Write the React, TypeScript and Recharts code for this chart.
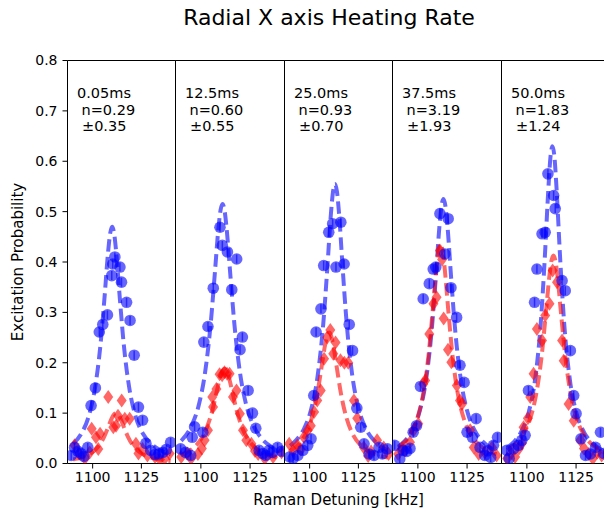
import React from 'react';
import { ComposedChart, XAxis, YAxis, Line, Scatter, ReferenceArea } from 'recharts';

// ---------- data ----------
const xTicks = [1100, 1125];
const yTicks = [0, 0.1, 0.2, 0.3, 0.4, 0.5, 0.6, 0.7, 0.8];
const xDomain: [number, number] = [1087.1, 1142.5];
const yDomain: [number, number] = [0, 0.8];

const delayLabels = ['0.05ms', '12.5ms', '25.0ms', '37.5ms', '50.0ms'];
const nLabels = ['n=0.29', 'n=0.60', 'n=0.93', 'n=3.19', 'n=1.83'];
const errLabels = ['\u00b10.35', '\u00b10.55', '\u00b10.70', '\u00b11.93', '\u00b11.24'];

const blue1 = [[1089,0.016],[1090.7,0.032],[1092.5,0.024],[1094,0.02],[1095.5,0.014],[1097.5,0.032],[1099.2,0.115],[1101.4,0.15],[1103.4,0.261],[1105.2,0.276],[1107.6,0.295],[1109.8,0.373],[1110.3,0.396],[1111.4,0.41],[1114,0.39],[1114.8,0.36],[1117.4,0.32],[1119.2,0.284],[1121.3,0.215],[1123.5,0.112],[1125.6,0.086],[1127.3,0.04],[1129.8,0.026],[1132,0.018],[1134,0.019],[1136,0.022],[1137.8,0.028],[1140,0.042]];
const red1 = [[1090.7,0.036],[1093,0.02],[1096,0.01],[1098.5,0.022],[1099.5,0.069],[1101.7,0.052],[1102.9,0.029],[1103.8,0.059],[1108,0.132],[1110.6,0.072],[1112,0.075],[1113,0.095],[1114.9,0.125],[1116.5,0.089],[1119,0.089],[1122.2,0.039],[1123.5,0.02],[1125.6,0.029],[1128.1,0.016],[1132,0.013],[1134.5,0.008],[1137,0.01],[1139.5,0.02]];
const fitBlue1 = [[1090,0.039],[1094,0.058],[1098,0.094],[1101,0.145],[1104,0.235],[1106,0.325],[1108,0.423],[1109,0.457],[1110,0.47],[1111,0.457],[1112,0.423],[1114,0.325],[1116,0.235],[1119,0.145],[1122,0.094],[1126,0.058],[1130,0.039],[1135,0.026],[1140,0.018]];
const fitRed1 = [[1090,0.008],[1092,0.0096],[1096,0.0142],[1100,0.0227],[1103,0.0343],[1106,0.054],[1108,0.0725],[1110,0.0913],[1111,0.0977],[1112,0.1],[1113,0.0977],[1114,0.0913],[1116,0.0725],[1118,0.054],[1121,0.0343],[1124,0.0227],[1128,0.0142],[1132,0.0096],[1137,0.0063],[1140,0.0051]];

const blue2 = [[1089.7,0.029],[1092.2,0.022],[1094.8,0.016],[1095.6,0.052],[1096.8,0.073],[1101,0.062],[1101.5,0.241],[1103.6,0.272],[1106.3,0.348],[1109.7,0.469],[1110.9,0.433],[1113.5,0.42],[1115.7,0.345],[1118.2,0.406],[1119.9,0.226],[1121.1,0.251],[1124,0.145],[1126.2,0.1],[1127.9,0.07],[1129.6,0.026],[1131.5,0.02],[1133,0.016],[1134.7,0.026],[1136.4,0.022],[1139,0.032],[1141,0.024]];
const red2 = [[1090,0.013],[1093,0.02],[1095,0.01],[1098.5,0.019],[1100.5,0.03],[1101.9,0.046],[1103.6,0.066],[1105.8,0.132],[1106.2,0.112],[1107.9,0.148],[1109.5,0.177],[1110.8,0.175],[1112,0.181],[1113.3,0.178],[1114.6,0.178],[1116.3,0.132],[1118.1,0.145],[1119.8,0.099],[1121.4,0.066],[1123.1,0.046],[1125.7,0.039],[1127.5,0.025],[1129.1,0.019],[1132.5,0.01],[1136.7,0.013],[1141,0.022]];
const fitBlue2 = [[1090,0.045],[1095,0.073],[1099,0.117],[1102,0.177],[1105,0.278],[1107,0.373],[1109,0.47],[1110,0.503],[1111,0.515],[1112,0.503],[1113,0.47],[1115,0.373],[1117,0.278],[1120,0.177],[1123,0.117],[1127,0.073],[1131,0.049],[1136,0.033],[1140,0.025]];
const fitRed2 = [[1090,0.017],[1092,0.0205],[1096,0.0303],[1100,0.0478],[1103,0.0709],[1106,0.108],[1108,0.142],[1110,0.174],[1111,0.184],[1112,0.188],[1113,0.184],[1114,0.174],[1116,0.142],[1118,0.108],[1121,0.0709],[1124,0.0478],[1128,0.0303],[1132,0.0205],[1137,0.0137],[1140,0.011]];

const blue3 = [[1089.7,0.013],[1091.5,0.01],[1093.9,0.016],[1096.5,0.026],[1099,0.036],[1100.7,0.049],[1102.1,0.135],[1103.3,0.261],[1105.8,0.307],[1107.2,0.393],[1109.8,0.459],[1111.8,0.476],[1113.5,0.39],[1116,0.479],[1117.7,0.396],[1120.3,0.276],[1122,0.224],[1124.2,0.11],[1126.2,0.072],[1127.9,0.039],[1130.5,0.019],[1133,0.016],[1135.6,0.032],[1137.3,0.019],[1139.9,0.029]];
const red3 = [[1089.5,0.039],[1091.5,0.025],[1093.7,0.036],[1095.5,0.028],[1097.1,0.052],[1099,0.066],[1100.6,0.075],[1102.3,0.102],[1103.9,0.125],[1105.7,0.145],[1107.4,0.208],[1109,0.25],[1110.6,0.265],[1112.1,0.218],[1113.3,0.24],[1115.8,0.205],[1117.8,0.2],[1119.8,0.2],[1122.7,0.125],[1124.4,0.09],[1127.8,0.032],[1130,0.015],[1131.5,0.024],[1134.6,0.046],[1138,0.032],[1140.5,0.019]];
const fitBlue3 = [[1090,0.035],[1093,0.0458],[1097,0.068],[1101,0.111],[1104,0.171],[1107,0.278],[1109,0.384],[1111,0.5],[1112,0.54],[1113,0.555],[1114,0.54],[1115,0.5],[1117,0.384],[1119,0.278],[1122,0.171],[1125,0.111],[1129,0.068],[1133,0.0458],[1138,0.03],[1140,0.026]];
const fitRed3 = [[1090,0.0248],[1094,0.0368],[1098,0.059],[1101,0.0892],[1104,0.14],[1106,0.1885],[1108,0.237],[1109,0.254],[1110,0.26],[1111,0.254],[1112,0.237],[1114,0.1885],[1116,0.14],[1119,0.0892],[1122,0.059],[1126,0.0368],[1130,0.0248],[1135,0.0165],[1140,0.0117]];

const blue4 = [[1088.2,0.036],[1090.8,0.009],[1092.5,0.026],[1094.3,0.024],[1096,0.03],[1097.6,0.062],[1099.3,0.075],[1101.3,0.153],[1102.7,0.327],[1105.8,0.357],[1107.8,0.386],[1109.1,0.39],[1111.2,0.496],[1113.7,0.416],[1115.4,0.486],[1116.8,0.349],[1119.7,0.29],[1121.4,0.195],[1123.5,0.161],[1125,0.062],[1127.7,0.052],[1129.6,0.089],[1131.6,0.032],[1134,0.016],[1135.5,0.025],[1137,0.012],[1138.4,0.036],[1140.5,0.052]];
const red4 = [[1090,0.019],[1092,0.03],[1093.5,0.026],[1096,0.042],[1097.8,0.066],[1100.2,0.079],[1102.7,0.158],[1103.7,0.165],[1105.8,0.257],[1107.9,0.317],[1109.5,0.33],[1111.2,0.423],[1112.3,0.405],[1113.1,0.288],[1115.3,0.226],[1117,0.201],[1119.8,0.155],[1121.4,0.125],[1122.4,0.118],[1126.6,0.066],[1128.4,0.032],[1130.9,0.019],[1134,0.022],[1137.7,0.032],[1140,0.016]];
const fitBlue4 = [[1090,0.0334],[1093,0.0434],[1097,0.0646],[1101,0.105],[1104,0.162],[1107,0.263],[1109,0.363],[1111,0.473],[1112,0.511],[1113,0.525],[1114,0.511],[1115,0.473],[1117,0.363],[1119,0.263],[1122,0.162],[1125,0.105],[1129,0.0646],[1133,0.0434],[1138,0.0286],[1140,0.0247]];
const fitRed4 = [[1090,0.0315],[1091.5,0.036],[1095.5,0.0536],[1099.5,0.0872],[1102.5,0.134],[1105.5,0.218],[1107.5,0.302],[1109.5,0.392],[1110.5,0.424],[1111.5,0.436],[1112.5,0.424],[1113.5,0.392],[1115.5,0.302],[1117.5,0.218],[1120.5,0.134],[1123.5,0.0872],[1127.5,0.0536],[1131.5,0.036],[1136.5,0.0238],[1140,0.0185]];

const blue5 = [[1089.8,0.026],[1091,0.01],[1093.2,0.029],[1095.7,0.036],[1097.4,0.046],[1099.1,0.056],[1100.8,0.145],[1103.9,0.32],[1105.1,0.386],[1107.7,0.456],[1109.3,0.459],[1110.7,0.575],[1113.6,0.532],[1114.4,0.506],[1117.9,0.363],[1119.5,0.343],[1122.1,0.224],[1123.8,0.135],[1125,0.099],[1127.5,0.049],[1129.8,0.016],[1132.3,0.019],[1134.9,0.032],[1137.4,0.062],[1139,0.02]];
const red5 = [[1090,0.01],[1092,0.02],[1094,0.013],[1096,0.03],[1097.5,0.04],[1098.3,0.072],[1100.5,0.09],[1101.7,0.132],[1103.4,0.178],[1105.1,0.267],[1107.7,0.244],[1109.3,0.294],[1111.5,0.317],[1113.1,0.383],[1115.3,0.36],[1117.9,0.244],[1118.7,0.204],[1121.2,0.118],[1123.8,0.085],[1127.2,0.046],[1129,0.03],[1131.4,0.019],[1133.5,0.01],[1135.7,0.022],[1138,0.016]];
const fitBlue5 = [[1090,0.0318],[1093,0.0413],[1097,0.0623],[1101,0.103],[1104,0.162],[1107,0.276],[1109,0.401],[1111,0.551],[1112,0.609],[1113,0.63],[1114,0.609],[1115,0.551],[1117,0.401],[1119,0.276],[1122,0.162],[1125,0.103],[1129,0.0623],[1133,0.0413],[1138,0.0271],[1140,0.0234]];
const fitRed5 = [[1090,0.0269],[1093.5,0.0362],[1097.5,0.0539],[1101.5,0.087],[1104.5,0.133],[1107.5,0.213],[1109.5,0.292],[1111.5,0.374],[1112.5,0.403],[1113.5,0.413],[1114.5,0.403],[1115.5,0.374],[1117.5,0.292],[1119.5,0.213],[1122.5,0.133],[1125.5,0.087],[1129.5,0.0539],[1133.5,0.0362],[1138.5,0.024],[1140,0.0214]];

// ---------- layout ----------
const FONT = 'DejaVu Sans, sans-serif';
const PANEL_LEFTS = [67.5, 175.5, 284.5, 392.5, 501.5];
const PANEL_WIDTHS = [108, 109, 108, 109, 109];
const PLOT_TOP = 60.5;
const PLOT_H = 403;
const TOP_PAD = 10.5;

const toPts = (arr: number[][]) => arr.map(([x, y]) => ({ x, y }));

const panels = [
  { blue: blue1, red: red1, fb: fitBlue1, fr: fitRed1 },
  { blue: blue2, red: red2, fb: fitBlue2, fr: fitRed2 },
  { blue: blue3, red: red3, fb: fitBlue3, fr: fitRed3 },
  { blue: blue4, red: red4, fb: fitBlue4, fr: fitRed4 },
  { blue: blue5, red: red5, fb: fitBlue5, fr: fitRed5 },
];

const BlueDot = (props: any) => {
  const { cx, cy } = props;
  if (cx == null || cy == null) return <g />;
  return (
    <g>
      <circle cx={cx} cy={cy} r={5.8} fill="#0000ff" fillOpacity={0.6} />
      <line x1={cx} x2={cx} y1={cy - 4.5} y2={cy + 4.5} stroke="#0000ff" strokeOpacity={0.6} strokeWidth={1.5} />
    </g>
  );
};

const RedDiamond = (props: any) => {
  const { cx, cy } = props;
  if (cx == null || cy == null) return <g />;
  const w = 5, h = 7;
  return (
    <path
      d={`M${cx},${cy - h}L${cx + w},${cy}L${cx},${cy + h}L${cx - w},${cy}Z`}
      fill="#ff0000"
      fillOpacity={0.6}
    />
  );
};

const Panel = ({ k }: { k: number }) => {
  const p = panels[k];
  const L = PANEL_LEFTS[k];
  const W = PANEL_WIDTHS[k];
  const yw = k === 0 ? 45 : 8;
  const left = L - 0.5 - yw;
  return (
    <div style={{ position: 'absolute', left, top: PLOT_TOP - TOP_PAD }}>
      <ComposedChart
        width={0.5 + yw + W + 2}
        height={TOP_PAD + PLOT_H + 45.5}
        margin={{ top: TOP_PAD, left: 0.5, right: 2, bottom: 0.5 }}
      >
        <XAxis
          type="number"
          dataKey="x"
          domain={xDomain}
          ticks={xTicks}
          interval={0}
          allowDataOverflow
          height={45}
          tickSize={5}
          tickMargin={4}
          axisLine={false}
          tickLine={{ stroke: '#000', strokeWidth: 1 }}
          tick={{ fill: '#000', fontSize: 14, fontFamily: FONT }}
        />
        <YAxis
          type="number"
          dataKey="y"
          domain={yDomain}
          ticks={yTicks}
          interval={0}
          allowDataOverflow
          width={yw}
          tickSize={5}
          tickMargin={5}
          axisLine={false}
          tickLine={{ stroke: '#000', strokeWidth: 1 }}
          tick={k === 0 ? { fill: '#000', fontSize: 14, fontFamily: FONT } : false}
          tickFormatter={(v: number) => v.toFixed(1)}
        />
        <Line
          data={toPts(p.fb)}
          dataKey="y"
          type="monotone"
          stroke="#0000ff"
          strokeOpacity={0.6}
          strokeWidth={4}
          strokeDasharray="12.5 5.5"
          dot={false}
          activeDot={false}
          isAnimationActive={false}
        />
        <Line
          data={toPts(p.fr)}
          dataKey="y"
          type="monotone"
          stroke="#ff0000"
          strokeOpacity={0.6}
          strokeWidth={4}
          strokeDasharray="12.5 5.5"
          dot={false}
          activeDot={false}
          isAnimationActive={false}
        />
        <Scatter data={toPts(p.red)} dataKey="y" shape={RedDiamond} isAnimationActive={false} />
        <Scatter data={toPts(p.blue)} dataKey="y" shape={BlueDot} isAnimationActive={false} />
        <ReferenceArea
          x1={xDomain[0]}
          x2={xDomain[1]}
          y1={yDomain[0]}
          y2={yDomain[1]}
          fill="none"
          fillOpacity={0}
          stroke="#000"
          strokeWidth={1}
          ifOverflow="visible"
        />
      </ComposedChart>
    </div>
  );
};

export default function App() {
  return (
    <div
      style={{
        position: 'absolute',
        left: 0,
        top: 0,
        width: 604,
        height: 516,
        overflow: 'hidden',
        background: '#fff',
        fontFamily: FONT,
      }}
    >
      {panels.map((_, k) => (
        <Panel key={k} k={k} />
      ))}
      <svg
        width={604}
        height={516}
        style={{ position: 'absolute', left: 0, top: 0, pointerEvents: 'none' }}
      >
        <text x={329} y={25} textAnchor="middle" fontSize={22} fontFamily={FONT} fill="#000">
          Radial X axis Heating Rate
        </text>
        <text x={338.5} y={505} textAnchor="middle" fontSize={15} fontFamily={FONT} fill="#000">
          Raman Detuning [kHz]
        </text>
        <text
          x={22.5}
          y={262}
          textAnchor="middle"
          fontSize={15}
          fontFamily={FONT}
          fill="#000"
          transform="rotate(-90 22.5 262)"
        >
          Excitation Probability
        </text>
        {PANEL_LEFTS.map((L, k) => (
          <g key={k} fontSize={14.5} fontFamily={FONT} fill="#000">
            <text x={L + 9.5} y={98}>{delayLabels[k]}</text>
            <text x={L + 14} y={114.5}>{nLabels[k]}</text>
            <text x={L + 14.5} y={131}>{errLabels[k]}</text>
          </g>
        ))}
      </svg>
    </div>
  );
}
